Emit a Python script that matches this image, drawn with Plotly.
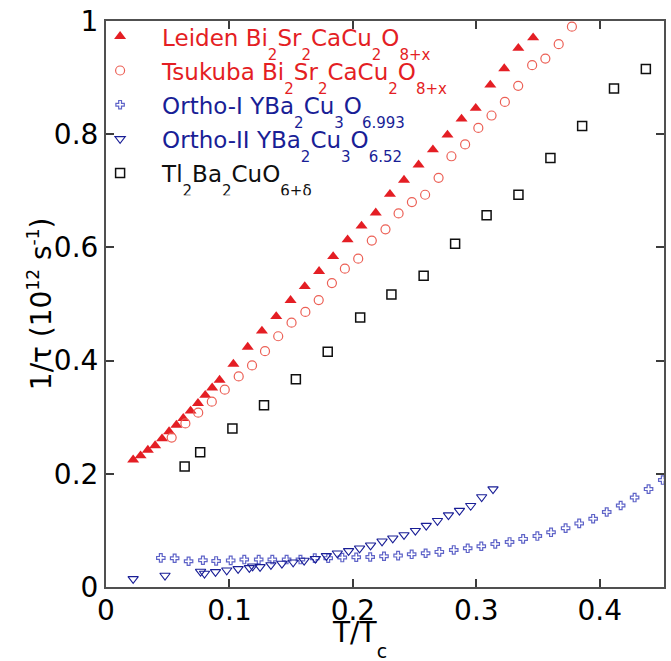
import plotly.graph_objects as go

# Leiden Bi2Sr2CaCu2O8+x (filled triangles)
leiden_x = [0.022, 0.028, 0.0339, 0.0398, 0.0454, 0.0511, 0.057, 0.0626, 0.0685, 0.0745, 0.0804, 0.086, 0.092,
            0.1032, 0.1148, 0.1263, 0.1379, 0.1495, 0.161, 0.1726, 0.184, 0.1957, 0.207, 0.2185, 0.230, 0.2414,
            0.2532, 0.2648, 0.2766, 0.288, 0.2995, 0.3113, 0.3226, 0.334, 0.346]
leiden_y = [0.2247, 0.232, 0.242, 0.250, 0.262, 0.2746, 0.286, 0.298, 0.311, 0.3245, 0.339, 0.352, 0.3656,
            0.394, 0.424, 0.4525, 0.478, 0.5066, 0.531, 0.5577, 0.584, 0.6136, 0.638, 0.661, 0.694, 0.719,
            0.746, 0.7727, 0.7986, 0.827, 0.846, 0.887, 0.916, 0.952, 0.9706]

# Tsukuba Bi2Sr2CaCu2O8+x (open circles)
tsukuba_x = [0.0532, 0.0643, 0.0747, 0.0857, 0.0962, 0.1075, 0.1183, 0.1288, 0.1395, 0.1503, 0.1615, 0.1723,
             0.183, 0.1935, 0.2043, 0.2153, 0.2264, 0.237, 0.2478, 0.2585, 0.2694, 0.2798, 0.2909, 0.3016,
             0.3123, 0.3231, 0.3339, 0.3452, 0.3559, 0.3667, 0.3774]
tsukuba_y = [0.264, 0.289, 0.308, 0.3274, 0.3486, 0.372, 0.3915, 0.4167, 0.443, 0.467, 0.486, 0.507,
             0.537, 0.5624, 0.580, 0.612, 0.632, 0.660, 0.680, 0.693, 0.723, 0.761, 0.782, 0.811,
             0.833, 0.857, 0.8855, 0.922, 0.9336, 0.959, 0.990]

# Ortho-I YBa2Cu3O6.993 (open crosses)
orthoI_x = [0.0444, 0.0556, 0.0669, 0.0785, 0.0892, 0.101, 0.112, 0.1237, 0.1347, 0.1463, 0.1575, 0.1691,
            0.180, 0.1914, 0.2027, 0.214, 0.2252, 0.2366, 0.2476, 0.2589, 0.270, 0.2817, 0.293, 0.304,
            0.3153, 0.3269, 0.3379, 0.3494, 0.3605, 0.3723, 0.3833, 0.3946, 0.4056, 0.4169, 0.4282,
            0.4395, 0.451]
orthoI_y = [0.0514, 0.0508, 0.0455, 0.0473, 0.046, 0.047, 0.0485, 0.0485, 0.0485, 0.0485, 0.0485, 0.051,
            0.051, 0.052, 0.0526, 0.053, 0.0543, 0.0555, 0.0578, 0.0596, 0.062, 0.0655, 0.0684, 0.072,
            0.076, 0.0796, 0.085, 0.090, 0.0966, 0.104, 0.1124, 0.1207, 0.1325, 0.144, 0.158,
            0.173, 0.189]

# Ortho-II YBa2Cu3O6.52 (open down-triangles)
orthoII_x = [0.022, 0.0478, 0.0766, 0.0798, 0.0887, 0.0978, 0.107, 0.1161, 0.1188, 0.1248, 0.1336, 0.1425,
             0.1516, 0.1605, 0.1696, 0.1785, 0.1874, 0.1965, 0.2054, 0.2143, 0.2236, 0.2323, 0.2414,
             0.2506, 0.2594, 0.2685, 0.2774, 0.2863, 0.2954, 0.3043, 0.3135]
orthoII_y = [0.0144, 0.0203, 0.0273, 0.0238, 0.0268, 0.0296, 0.032, 0.0338, 0.0367, 0.0356, 0.039, 0.0414,
             0.0437, 0.0467, 0.050, 0.055, 0.0596, 0.0638, 0.0684, 0.0737, 0.0807, 0.086, 0.092,
             0.0995, 0.1084, 0.117, 0.127, 0.135, 0.1436, 0.159, 0.173]

# Tl2Ba2CuO6+d (open squares)
tl_x = [0.0637, 0.0763, 0.1024, 0.128, 0.1538, 0.1796, 0.2059, 0.2312, 0.2573, 0.2828, 0.3083, 0.3341,
        0.360, 0.3857, 0.4115, 0.4373]
tl_y = [0.213, 0.238, 0.280, 0.321, 0.367, 0.4155, 0.476, 0.5166, 0.550, 0.6065, 0.657, 0.693,
        0.758, 0.8145, 0.8807, 0.915]

x_ticks = [0, 0.1, 0.2, 0.3, 0.4]
x_ticktext = ["0", "0.1", "0.2", "0.3", "0.4"]
y_ticks = [0, 0.2, 0.4, 0.6, 0.8, 1]
y_ticktext = ["0", "0.2", "0.4", "0.6", "0.8", "1"]

RED = "rgb(228,30,36)"
SALMON = "rgb(236,96,86)"
NAVY = "rgb(25,30,150)"
LIGHTBLUE = "rgb(95,100,200)"
BLACK = "rgb(15,15,15)"

FONT = "'DejaVu Sans', sans-serif"


def sub(t, size=15, shift=14):
    return '<span style="font-size:%dpx;baseline-shift:-%dpx">%s</span>' % (size, shift, t)


def sup(t, size=17, shift=12):
    return '<span style="font-size:%dpx;baseline-shift:%dpx">%s</span>' % (size, shift, t)


def lbl(text, color):
    return '<span style="color:%s;font-size:23px">%s</span>' % (color, text)


name_leiden = lbl("Leiden Bi" + sub("2") + "Sr" + sub("2") + "CaCu" + sub("2") + "O" + sub("8+x"), RED)
name_tsukuba = lbl("Tsukuba Bi" + sub("2") + "Sr" + sub("2") + "CaCu" + sub("2") + "O" + sub("8+x"), RED)
name_o1 = lbl("Ortho-I YBa" + sub("2") + "Cu" + sub("3") + "O" + sub("6.993"), NAVY)
name_o2 = lbl("Ortho-II YBa" + sub("2") + "Cu" + sub("3") + "O" + sub("6.52"), NAVY)
name_tl = lbl("Tl" + sub("2") + "Ba" + sub("2") + "CuO" + sub("6+δ"), BLACK)

fig = go.Figure()
fig.add_trace(go.Scatter(
    x=leiden_x, y=leiden_y, mode="markers", name=name_leiden,
    marker=dict(symbol="triangle-up", size=10.5, color=RED, line=dict(width=0))))
fig.add_trace(go.Scatter(
    x=tsukuba_x, y=tsukuba_y, mode="markers", name=name_tsukuba,
    marker=dict(symbol="circle-open", size=9, color=SALMON, line=dict(width=1.2, color=SALMON))))
fig.add_trace(go.Scatter(
    x=orthoI_x, y=orthoI_y, mode="markers", name=name_o1,
    marker=dict(symbol="cross-open", size=7, color=LIGHTBLUE, line=dict(width=1.2, color=LIGHTBLUE))))
fig.add_trace(go.Scatter(
    x=orthoII_x, y=orthoII_y, mode="markers", name=name_o2,
    marker=dict(symbol="triangle-down-open", size=9, color=NAVY, line=dict(width=1.1, color=NAVY))))
fig.add_trace(go.Scatter(
    x=tl_x, y=tl_y, mode="markers", name=name_tl,
    marker=dict(symbol="square-open", size=9, color=BLACK, line=dict(width=1.5, color=BLACK))))

axis_common = dict(
    showline=True, linecolor="rgb(80,80,80)", linewidth=2, mirror="ticks",
    ticks="inside", ticklen=8, tickwidth=1.5, tickcolor="rgb(60,60,60)",
    showgrid=False, zeroline=False,
    tickfont=dict(size=28, color="black", family=FONT),
)
fig.update_xaxes(range=[0, 0.452], tickvals=x_ticks, ticktext=x_ticktext, ticklabelstandoff=-3, **axis_common)
fig.update_yaxes(range=[0, 1], tickvals=y_ticks, ticktext=y_ticktext, **axis_common)

fig.add_annotation(
    text="T/T" + sub("c", size=19, shift=16), xref="paper", yref="paper",
    x=0.455, y=-0.092, xanchor="center", yanchor="middle", showarrow=False,
    font=dict(size=28, family=FONT, color="black"))
fig.add_annotation(
    text="1/τ (10" + sup("12") + " s" + sup("-1") + ")", xref="paper", yref="paper",
    x=-0.118, y=0.5, xanchor="center", yanchor="middle", textangle=-90, showarrow=False,
    font=dict(size=28, family=FONT, color="black"))

fig.update_layout(
    width=671, height=661,
    margin=dict(l=106, r=5, t=21, b=74),
    paper_bgcolor="white", plot_bgcolor="white",
    font=dict(family=FONT, size=23, color="black"),
    showlegend=True,
    legend=dict(x=-0.05, y=1.012, xanchor="left", yanchor="top", bgcolor="rgba(0,0,0,0)",
                font=dict(size=24, family=FONT), itemwidth=74, tracegroupgap=0),
)

fig.write_html("out.html")
